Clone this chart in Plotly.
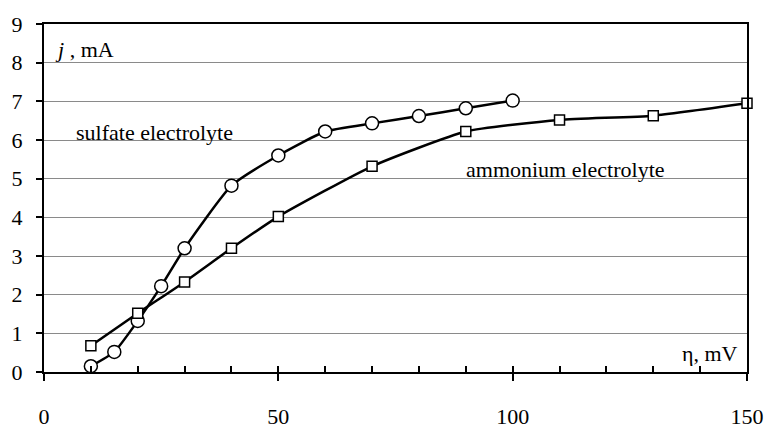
import plotly.graph_objects as go

sulfate_x = [10, 15, 20, 25, 30, 40, 50, 60, 70, 80, 90, 100]
sulfate_y = [0.15, 0.52, 1.32, 2.22, 3.2, 4.82, 5.6, 6.22, 6.43, 6.62, 6.82, 7.02]
ammonium_x = [10, 20, 30, 40, 50, 70, 90, 110, 130, 150]
ammonium_y = [0.68, 1.52, 2.33, 3.2, 4.02, 5.32, 6.22, 6.52, 6.63, 6.95]

x_ticks = [0, 50, 100, 150]
y_ticks = list(range(0, 10))

FONT = "'Liberation Serif', 'Times New Roman', Times, 'DejaVu Serif', serif"
FS = 22

fig = go.Figure()
fig.add_trace(go.Scatter(
    x=sulfate_x, y=sulfate_y, mode="lines+markers",
    line=dict(color="black", width=2.5, shape="spline", smoothing=0.5),
    marker=dict(symbol="circle", size=13, color="white", line=dict(color="black", width=1.5)),
    showlegend=False, cliponaxis=False))
fig.add_trace(go.Scatter(
    x=ammonium_x, y=ammonium_y, mode="lines+markers",
    line=dict(color="black", width=2.5, shape="spline", smoothing=0.5),
    marker=dict(symbol="square", size=10, color="white", line=dict(color="black", width=1.5)),
    showlegend=False, cliponaxis=False))

# invisible trace for secondary x axis (inside minor ticks)
fig.add_trace(go.Scatter(x=[0, 150], y=[None, None], xaxis="x2", showlegend=False, hoverinfo="skip"))

fig.update_layout(
    width=776, height=441,
    margin=dict(l=40, r=19, t=15, b=48),
    paper_bgcolor="white", plot_bgcolor="white",
    font=dict(family=FONT, size=FS, color="black"),
    xaxis=dict(range=[0, 150], tickvals=x_ticks, ticks="outside", ticklen=7, tickwidth=1.5,
               tickcolor="black", showline=True, linecolor="black", linewidth=2, mirror=True,
               showgrid=False, zeroline=False, ticklabelstandoff=17,
               tickfont=dict(family=FONT, size=FS)),
    xaxis2=dict(range=[0, 150], overlaying="x", anchor="y", side="bottom", dtick=10, tick0=0,
                ticks="inside", ticklen=6, tickwidth=1.5, tickcolor="black",
                showticklabels=False, showgrid=False, zeroline=False, showline=False),
    yaxis=dict(range=[0, 9], tickvals=y_ticks, ticks="outside", ticklen=6, tickwidth=1.5,
               tickcolor="black", showline=True, linecolor="black", linewidth=2, mirror=True,
               showgrid=True, gridcolor="#8a8a8a", gridwidth=1, zeroline=False,
               ticklabelstandoff=9, tickfont=dict(family=FONT, size=FS)),
    annotations=[
        dict(x=2.0, y=8.33, xref="x", yref="y", xanchor="left", yanchor="middle", showarrow=False,
             text="<i>j</i> , mA", font=dict(family=FONT, size=FS)),
        dict(x=6.3, y=6.19, xref="x", yref="y", xanchor="left", yanchor="middle", showarrow=False,
             text="sulfate electrolyte", font=dict(family=FONT, size=FS)),
        dict(x=89.7, y=5.24, xref="x", yref="y", xanchor="left", yanchor="middle", showarrow=False,
             text="ammonium electrolyte", font=dict(family=FONT, size=FS)),
        dict(x=148.5, y=0.48, xref="x", yref="y", xanchor="right", yanchor="middle", showarrow=False,
             text="η, mV", font=dict(family=FONT, size=FS)),
    ],
)

fig.write_html("out.html", config={"displayModeBar": False})

# remove the default page margin so the figure fills the window exactly
with open("out.html", "r", encoding="utf-8") as f:
    html = f.read()
html = html.replace("<head>", "<head><style>html,body{margin:0;padding:0;overflow:hidden;}</style>", 1)
with open("out.html", "w", encoding="utf-8") as f:
    f.write(html)
